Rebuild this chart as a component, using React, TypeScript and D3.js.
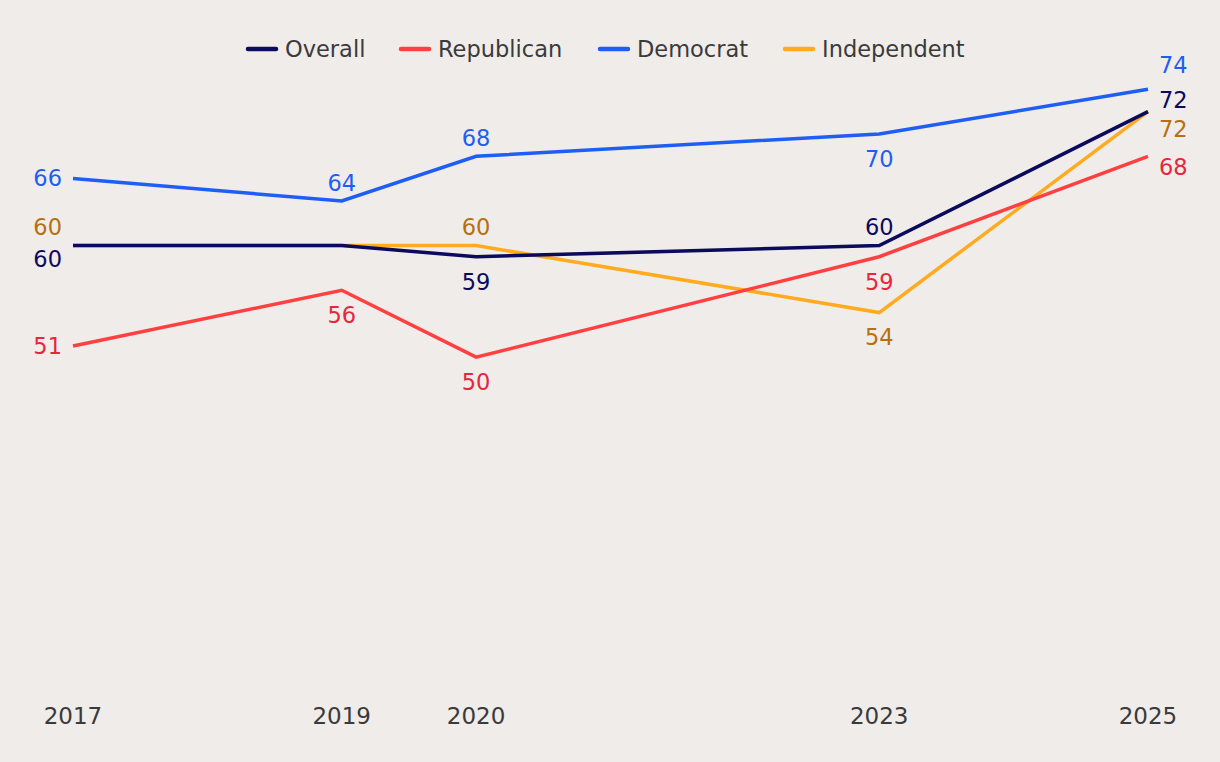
import React from "react";
import * as d3 from "d3";

const years = [2017, 2019, 2020, 2023, 2025];
const seriesNames = ["Overall", "Republican", "Democrat", "Independent"];
const overall = [60, 60, 59, 60, 72];
const republican = [51, 56, 50, 59, 68];
const democrat = [66, 64, 68, 70, 74];
const independent = [60, 60, 60, 54, 72];

const lineColors = ["#0b0a5c", "#ff4040", "#1e5ef5", "#ffab1f"];
const textColors = ["#0b0a5c", "#e8253a", "#1e5ef5", "#b5700f"];

// label placement per series per point
const placements: string[][] = [
  ["lb", "none", "b", "a", "r1"],
  ["l", "b", "b", "b", "r3"],
  ["l", "a", "a", "b", "r0"],
  ["la", "none", "a", "b", "r2"],
];
const rightOffsets = [-24, -12, 17, 11];

const W = 1220;
const H = 762;
const FONT = "'DejaVu Sans', sans-serif";

export default function App() {
  const allData = [overall, republican, democrat, independent];
  const x = d3.scaleLinear().domain([2017, 2025]).range([73, 1148]);
  const y = d3.scaleLinear().domain([20, 76]).range([692, 67]);

  const line = d3
    .line<number>()
    .x((_, i) => x(years[i]))
    .y((d) => y(d));

  const legendX = [246, 399, 598, 783];

  return (
    <svg
      width={W}
      height={H}
      style={{ position: "fixed", left: 0, top: 0, background: "#f0ecea" }}
      fontFamily={FONT}
    >
      <rect width={W} height={H} fill="#f0ecea" />
      {seriesNames.map((name, i) => (
        <g key={name} transform={`translate(${legendX[i]},49)`}>
          <line x1={2} x2={30} y1={0} y2={0} stroke={lineColors[i]} strokeWidth={4.5} strokeLinecap="round" />
          <text x={39} y={0} dy="0.35em" fontSize={22.5} fill="#3a3a3a">
            {name}
          </text>
        </g>
      ))}
      {[3, 0, 1, 2].map((si) => (
        <path
          key={si}
          d={line(allData[si]) || ""}
          fill="none"
          stroke={lineColors[si]}
          strokeWidth={3.5}
          strokeLinejoin="miter"
        />
      ))}
      {allData.map((vals, si) =>
        vals.map((v, pi) => {
          const p = placements[si][pi];
          if (p === "none") return null;
          let tx = x(years[pi]);
          let ty = y(v);
          let anchor: "middle" | "end" | "start" = "middle";
          if (p === "a") ty -= 18;
          else if (p === "b") ty += 25;
          else if (p === "l") {
            tx -= 11;
            anchor = "end";
          } else if (p === "la") {
            tx -= 11;
            ty -= 18;
            anchor = "end";
          } else if (p === "lb") {
            tx -= 11;
            ty += 14;
            anchor = "end";
          } else if (p.startsWith("r")) {
            tx += 11;
            ty += rightOffsets[+p.slice(1)];
            anchor = "start";
          }
          return (
            <text
              key={`${si}-${pi}`}
              x={tx}
              y={ty}
              dy="0.35em"
              textAnchor={anchor}
              fontSize={22.5}
              fill={textColors[si]}
            >
              {v}
            </text>
          );
        })
      )}
      {years.map((yr) => (
        <text key={yr} x={x(yr)} y={716} dy="0.35em" textAnchor="middle" fontSize={23} fill="#3a3a3a">
          {yr}
        </text>
      ))}
    </svg>
  );
}
